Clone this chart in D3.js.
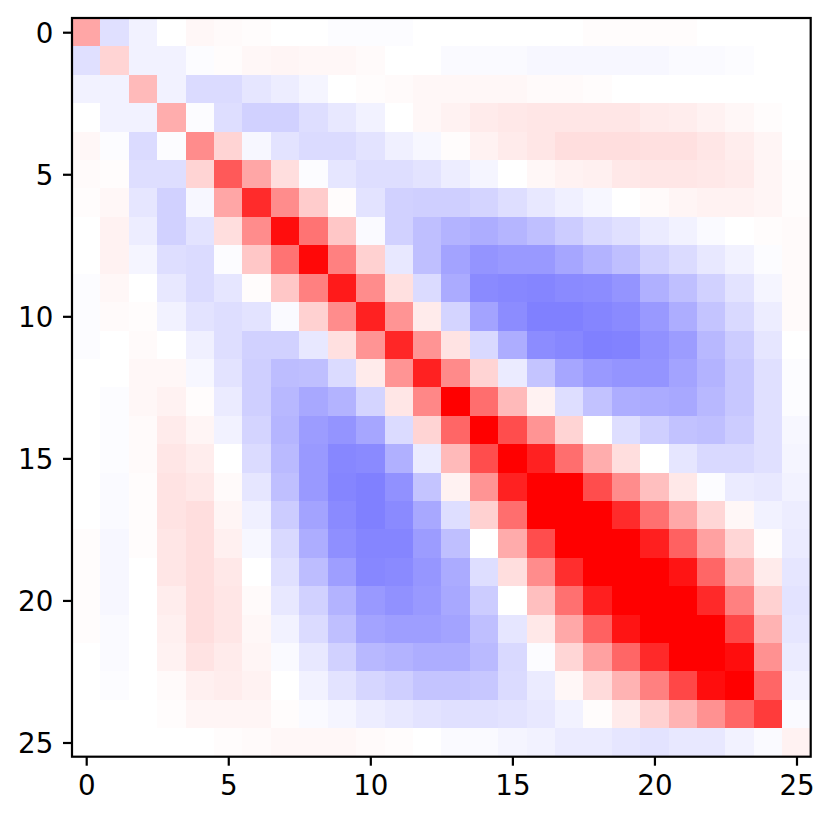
<!DOCTYPE html>
<html>
<head>
<meta charset="utf-8">
<script src="https://cdnjs.cloudflare.com/ajax/libs/d3/7.8.5/d3.min.js"></script>
<style>
html,body{margin:0;padding:0;background:#fff;}
svg{display:block;}
text{font-family:"DejaVu Sans",sans-serif;fill:#000;}
</style>
</head>
<body>
<svg id="c" width="833" height="822"></svg>
<script>
const tickValues = [0, 5, 10, 15, 20, 25];
const row00 = [35,-12,-5,0,3,2,1,0,0,-1,-1,-1,0,0,0,0,0,0,1,1,1,1,0,0,0,0];
const row01 = [-12,17,-5,-5,-1,1,3,4,3,3,2,0,0,-2,-2,-2,-3,-3,-3,-3,-3,-2,-2,-1,0,0];
const row02 = [-5,-5,27,-5,-14,-14,-10,-7,-4,0,1,2,3,3,3,3,2,2,1,0,0,0,0,0,0,0];
const row03 = [0,-5,-5,32,-1,-13,-18,-18,-13,-9,-5,0,3,5,8,9,10,10,10,10,8,7,5,3,1,0];
const row04 = [3,-1,-14,-1,45,17,-3,-11,-14,-14,-11,-6,-3,1,5,8,10,13,13,13,12,12,10,7,4,0];
const row05 = [2,1,-13,-13,17,65,35,13,-1,-10,-13,-13,-11,-7,-4,0,3,5,6,9,10,10,9,8,4,1];
const row06 = [1,3,-10,-18,-3,35,83,45,20,1,-11,-18,-19,-19,-17,-13,-9,-6,-3,0,2,4,5,5,4,1];
const row07 = [0,5,-7,-18,-11,13,45,95,55,22,-2,-18,-25,-30,-32,-29,-25,-20,-15,-12,-8,-5,-2,0,1,2];
const row08 = [0,5,-4,-13,-14,-1,22,55,97,50,18,-9,-25,-36,-42,-40,-40,-35,-30,-25,-18,-14,-9,-5,-1,2];
const row09 = [-1,3,0,-9,-14,-10,1,22,50,90,45,12,-14,-33,-46,-47,-48,-46,-45,-42,-31,-25,-18,-11,-4,2];
const row10 = [-1,2,1,-5,-11,-13,-11,-2,18,45,87,42,8,-17,-36,-45,-50,-50,-48,-46,-40,-32,-23,-15,-7,2];
const row11 = [-1,0,2,0,-6,-13,-18,-18,-9,12,42,85,42,11,-15,-32,-45,-47,-50,-49,-43,-39,-28,-20,-10,0];
const row12 = [0,0,3,3,-3,-11,-19,-26,-25,-14,8,42,87,46,17,-8,-23,-35,-40,-42,-42,-36,-30,-22,-12,-1];
const row13 = [0,-1,3,5,1,-8,-19,-28,-34,-30,-17,10,47,100,57,27,5,-13,-24,-32,-33,-34,-28,-22,-12,-1];
const row14 = [0,-1,2,8,4,-5,-17,-29,-39,-42,-35,-14,17,60,100,70,42,17,0,-13,-19,-24,-25,-20,-12,-3];
const row15 = [0,-1,2,10,7,0,-14,-27,-40,-47,-46,-31,-8,27,70,100,87,57,32,13,0,-10,-15,-15,-12,-4];
const row16 = [0,-2,1,11,9,2,-10,-25,-40,-48,-50,-43,-23,5,42,87,100,100,70,45,25,9,-1,-8,-9,-5];
const row17 = [0,-2,1,11,13,4,-6,-20,-36,-46,-50,-46,-34,-13,18,57,100,100,100,83,56,34,16,3,-5,-7];
const row18 = [1,-3,1,10,13,6,-3,-15,-32,-44,-48,-48,-39,-25,0,33,70,100,100,100,88,62,37,16,1,-8];
const row19 = [1,-3,0,10,13,9,0,-12,-26,-38,-47,-46,-41,-33,-13,13,45,82,100,100,100,92,60,30,8,-10];
const row20 = [1,-3,0,7,13,10,2,-9,-18,-30,-40,-43,-40,-34,-20,0,25,56,88,100,100,100,84,50,18,-11];
const row21 = [1,-2,0,6,13,10,3,-5,-14,-25,-36,-38,-38,-36,-25,-10,9,34,62,92,100,100,100,72,30,-10];
const row22 = [0,-2,0,5,11,8,4,-2,-9,-18,-28,-30,-32,-32,-27,-15,-1,16,37,60,84,100,100,95,43,-8];
const row23 = [0,-1,0,2,6,7,5,0,-5,-11,-16,-19,-23,-23,-22,-14,-8,3,14,30,50,72,95,100,60,-5];
const row24 = [0,0,0,1,4,4,4,1,-2,-4,-7,-9,-11,-12,-12,-11,-9,-5,1,8,18,30,43,60,77,-2];
const row25 = [0,0,0,0,0,1,2,3,3,3,2,1,0,-2,-2,-4,-5,-8,-8,-10,-11,-9,-9,-5,-2,5];
const matrix = [row00,row01,row02,row03,row04,row05,row06,row07,row08,row09,row10,row11,row12,
                row13,row14,row15,row16,row17,row18,row19,row20,row21,row22,row23,row24,row25];

const L = 72, T = 18, R = 810.7, B = 756.7;
const svg = d3.select("#c");
const x = d3.scaleLinear().domain([-0.5, 25.5]).range([L, R]);
const y = d3.scaleLinear().domain([-0.5, 25.5]).range([T, B]);
const bwr = d3.scaleLinear().domain([-100, 0, 100]).range(["#0000ff", "#ffffff", "#ff0000"]);

const cells = matrix.flatMap((r, i) => r.map((v, j) => ({i, j, v})));
svg.append("g").attr("shape-rendering", "crispEdges")
  .selectAll("rect").data(cells).join("rect")
  .attr("x", d => x(d.j - 0.5))
  .attr("y", d => y(d.i - 0.5))
  .attr("width", d => x(d.j + 0.5) - x(d.j - 0.5) + 0.5)
  .attr("height", d => y(d.i + 0.5) - y(d.i - 0.5) + 0.5)
  .attr("fill", d => bwr(d.v));

const styleAxis = g => {
  g.select(".domain").remove();
  g.selectAll("line").attr("stroke", "#000").attr("stroke-width", 2.2);
  g.selectAll("text").attr("font-size", 27.7).attr("font-family", '"DejaVu Sans"').attr("fill", "#000");
};
svg.append("g").attr("transform", `translate(0,${B})`)
  .call(d3.axisBottom(x).tickValues(tickValues).tickSize(9).tickPadding(10)).call(styleAxis);
svg.append("g").attr("transform", `translate(${L},0)`)
  .call(d3.axisLeft(y).tickValues(tickValues).tickSize(9).tickPadding(9.7)).call(styleAxis)
  .call(g => g.selectAll("text").attr("dy", "0.36em"));

svg.append("rect").attr("x", L).attr("y", T).attr("width", R - L).attr("height", B - T)
  .attr("fill", "none").attr("stroke", "#000").attr("stroke-width", 2.2);
</script>
</body>
</html>
